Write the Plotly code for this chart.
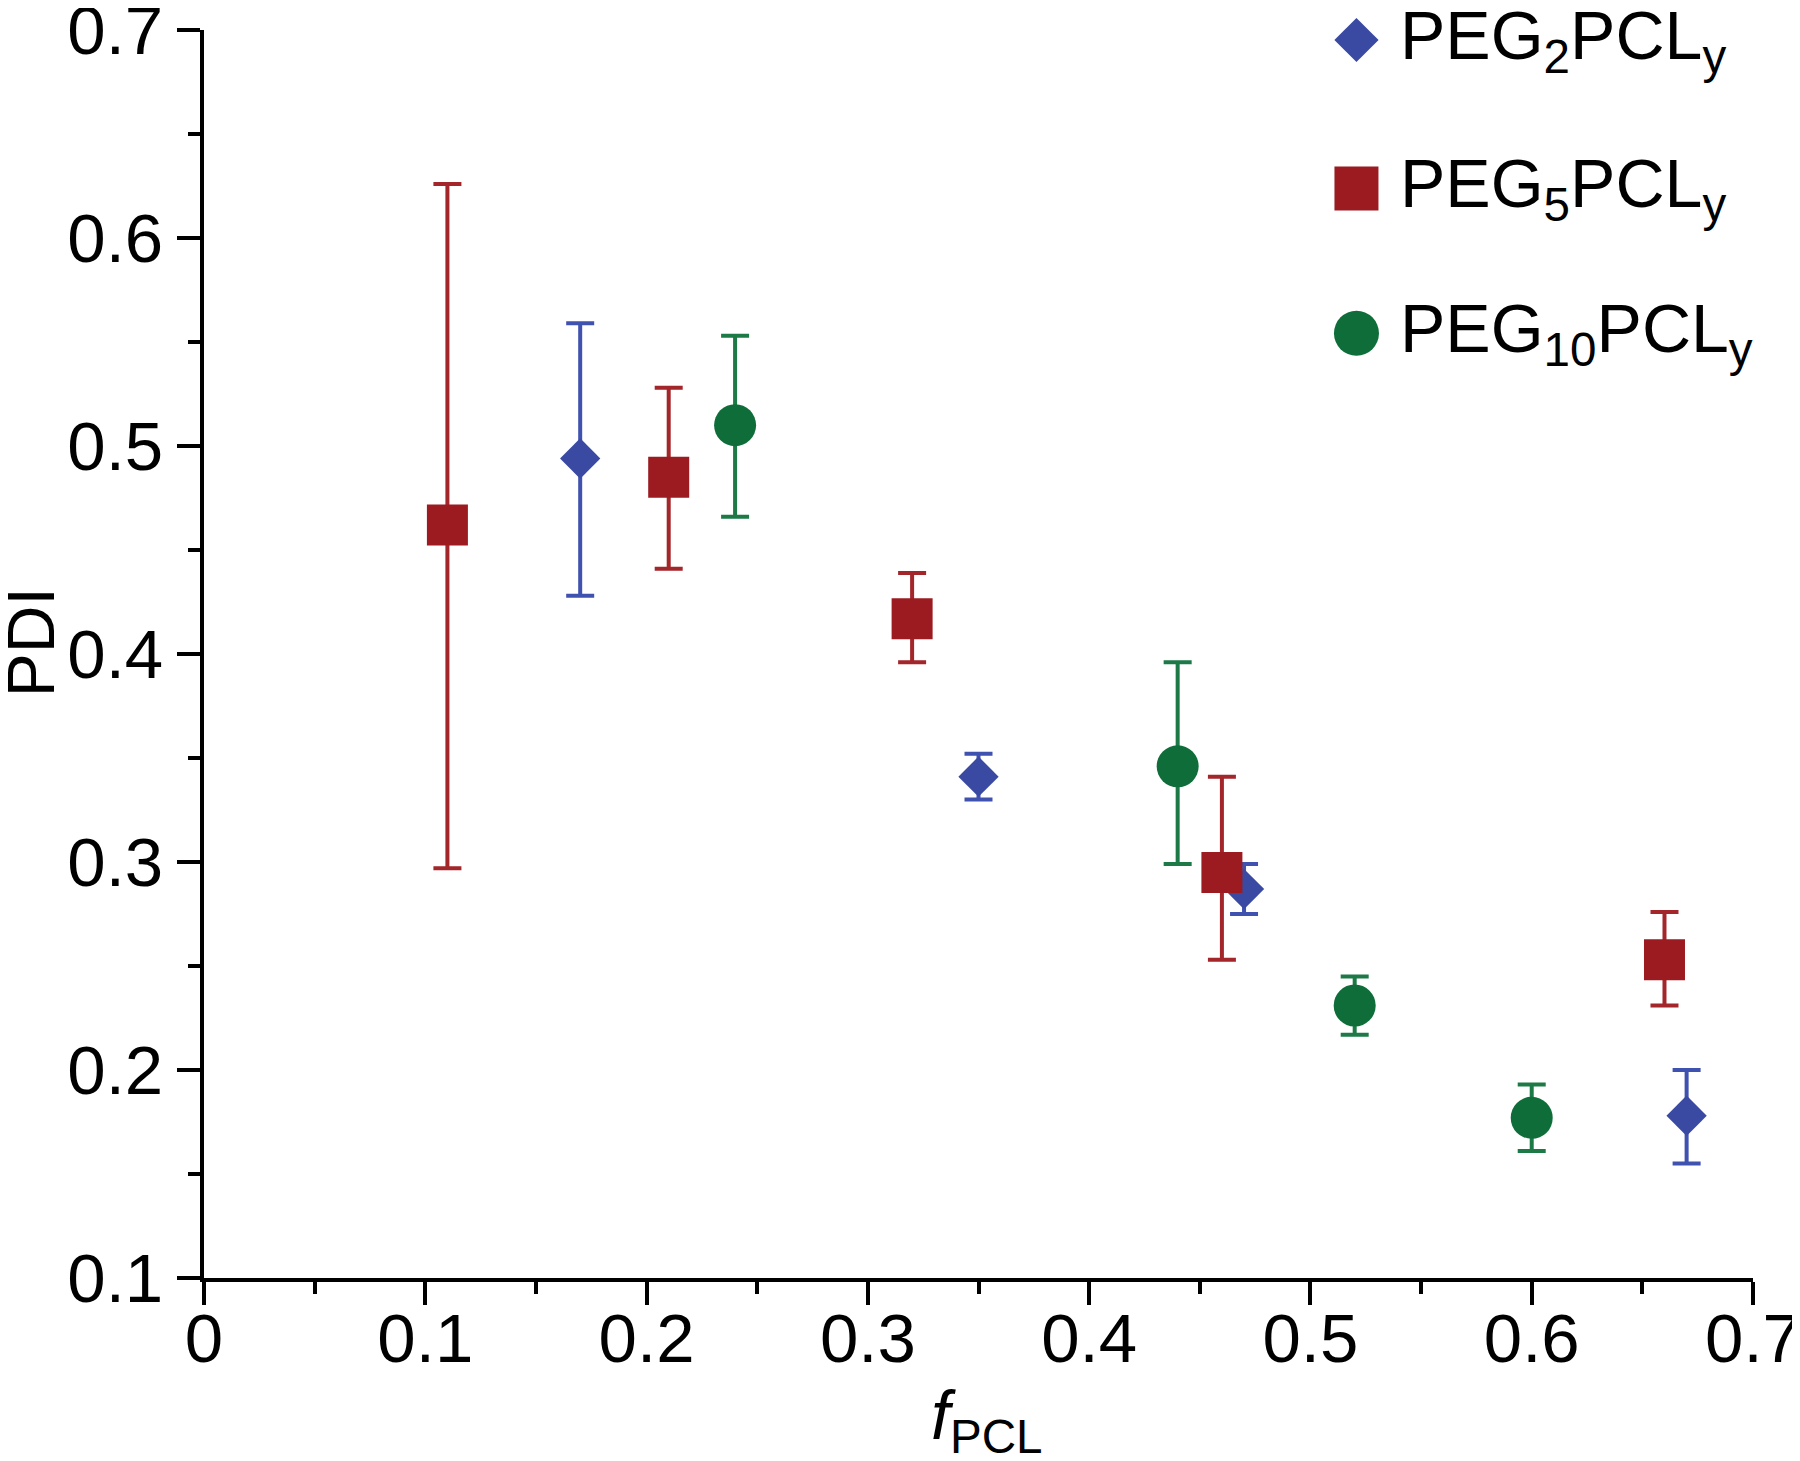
import plotly.graph_objects as go

# PEG2PCLy
peg2_x = [0.17, 0.35, 0.47, 0.67]
peg2_y = [0.494, 0.341, 0.287, 0.178]
peg2_hi = [0.559, 0.352, 0.299, 0.200]
peg2_lo = [0.428, 0.330, 0.275, 0.155]

# PEG5PCLy
peg5_x = [0.11, 0.21, 0.32, 0.46, 0.66]
peg5_y = [0.462, 0.485, 0.417, 0.295, 0.253]
peg5_hi = [0.626, 0.528, 0.439, 0.341, 0.276]
peg5_lo = [0.297, 0.441, 0.396, 0.253, 0.231]

# PEG10PCLy
peg10_x = [0.24, 0.44, 0.52, 0.60]
peg10_y = [0.510, 0.346, 0.231, 0.177]
peg10_hi = [0.553, 0.396, 0.245, 0.193]
peg10_lo = [0.466, 0.299, 0.217, 0.161]

x_ticks = [0, 0.1, 0.2, 0.3, 0.4, 0.5, 0.6, 0.7]
x_labels = ["0", "0.1", "0.2", "0.3", "0.4", "0.5", "0.6", "0.7"]
y_ticks = [0.1, 0.2, 0.3, 0.4, 0.5, 0.6, 0.7]
y_labels = ["0.1", "0.2", "0.3", "0.4", "0.5", "0.6", "0.7"]

names = ["PEG<sub>2</sub>PCL<sub>y</sub>", "PEG<sub>5</sub>PCL<sub>y</sub>",
         "PEG<sub>10</sub>PCL<sub>y</sub>"]
colors = ["#3a4aa3", "#9b1b20", "#0e6d38"]
bar_colors = ["#4052b0", "#a3262a", "#1d7a47"]
symbols = ["diamond", "square", "circle"]
sizes = [31, 41, 42]

FONT = "Liberation Sans, Arial, sans-serif"

fig = go.Figure()

series = [
    (peg2_x, peg2_y, peg2_hi, peg2_lo),
    (peg5_x, peg5_y, peg5_hi, peg5_lo),
    (peg10_x, peg10_y, peg10_hi, peg10_lo),
]
for i, (xs, ys, hi, lo) in enumerate(series):
    fig.add_trace(go.Scatter(
        x=xs, y=ys, mode="markers", name=names[i], showlegend=False,
        marker=dict(symbol=symbols[i], size=sizes[i], color=colors[i], line_width=0),
        error_y=dict(type="data", symmetric=False,
                     array=[h - y for h, y in zip(hi, ys)],
                     arrayminus=[y - l for l, y in zip(lo, ys)],
                     color=bar_colors[i], thickness=4, width=14),
        cliponaxis=False,
    ))

# hand-made legend (plotly caps legend marker size)
leg_x = 0.744
leg_y = [0.992, 0.873, 0.757]
for i in range(3):
    fig.add_trace(go.Scatter(
        x=[leg_x], y=[leg_y[i]], xaxis="x2", yaxis="y2", mode="markers",
        showlegend=False, cliponaxis=False, hoverinfo="skip",
        marker=dict(symbol=symbols[i], size=sizes[i] + 3, color=colors[i], line_width=0),
    ))
    fig.add_annotation(x=0.771, y=leg_y[i], xref="paper", yref="paper",
                       text=names[i], showarrow=False, xanchor="left", yanchor="middle",
                       font=dict(family=FONT, size=68, color="black"))

# axis titles
fig.add_annotation(x=-0.112, y=0.509, xref="paper", yref="paper", text="PDI",
                   textangle=-90, showarrow=False, xanchor="center", yanchor="middle",
                   font=dict(family=FONT, size=66, color="black"))
fig.add_annotation(x=0.5055, y=-0.078, xref="paper", yref="paper",
                   text="<i>f</i><sub>PCL</sub>", showarrow=False,
                   xanchor="center", yanchor="top",
                   font=dict(family=FONT, size=68, color="black"))

axis_common = dict(
    showline=True, linecolor="black", linewidth=4, mirror=False,
    ticks="outside", ticklen=23, tickwidth=4, tickcolor="black",
    showgrid=False, zeroline=False, automargin=False,
    ticklabeloverflow="allow",
    tickfont=dict(family=FONT, size=69, color="black"),
    minor=dict(ticks="outside", ticklen=12, tickwidth=4, tickcolor="black", dtick=0.05),
)

# page body adds an 8px offset, margins compensate for it
fig.update_layout(
    width=1800, height=1461,
    margin=dict(l=196, r=55, t=22, b=191),
    plot_bgcolor="white", paper_bgcolor="white",
    font=dict(family=FONT, color="black"),
    xaxis=dict(range=[0, 0.7], tickvals=x_ticks, ticktext=x_labels,
               ticklabelstandoff=-26, **axis_common),
    yaxis=dict(range=[0.1, 0.7], tickvals=y_ticks, ticktext=y_labels,
               **axis_common),
    xaxis2=dict(overlaying="x", range=[0, 1], visible=False),
    yaxis2=dict(overlaying="y", range=[0, 1], visible=False),
)

fig.write_html("out.html")
